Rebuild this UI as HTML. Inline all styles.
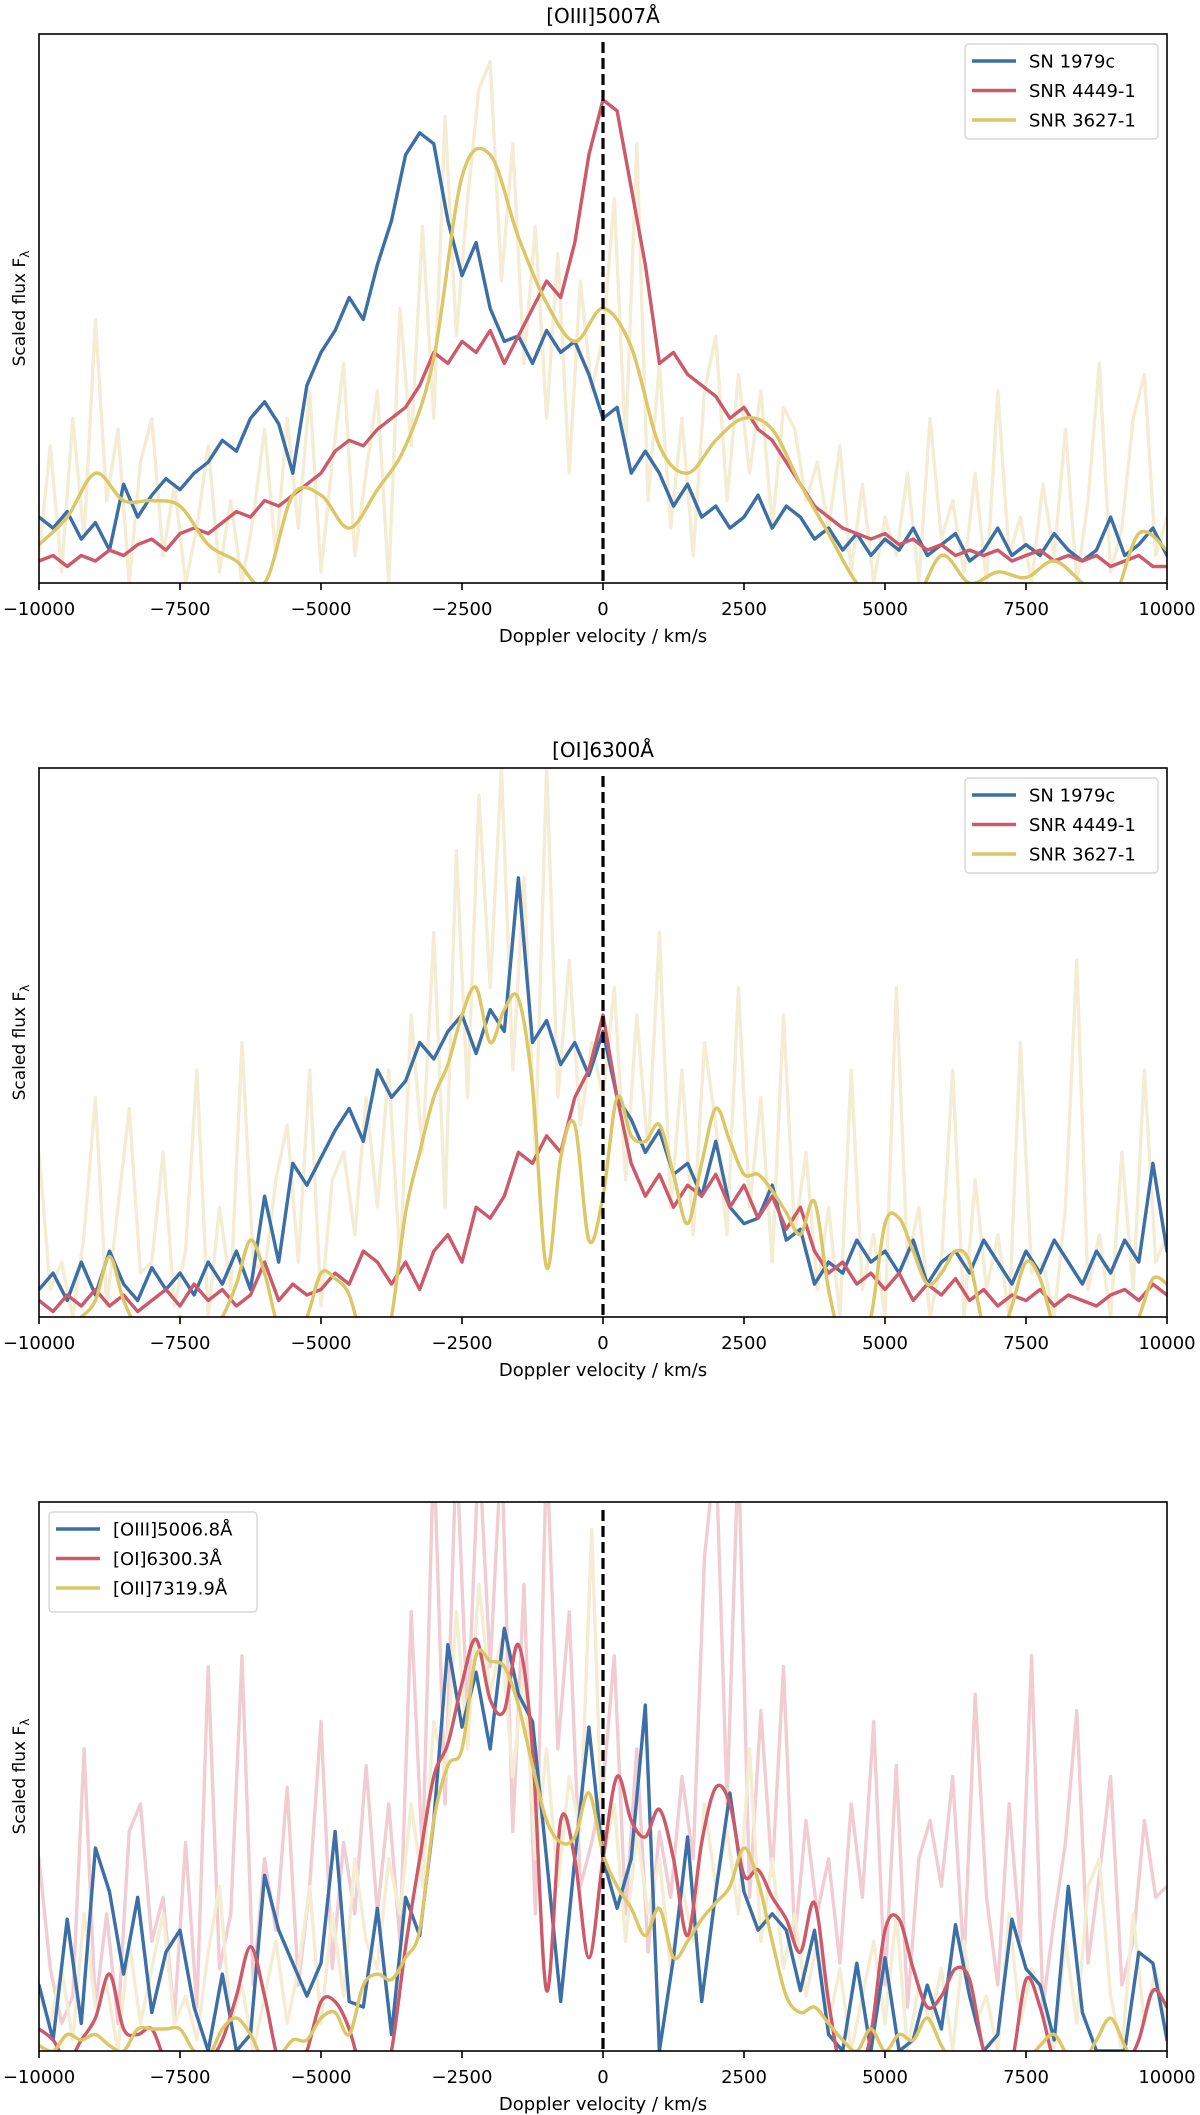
<!DOCTYPE html>
<html><head><meta charset="utf-8"><title>Doppler velocity profiles</title>
<style>
html,body{margin:0;padding:0;background:#fff;}
svg{display:block;font-family:"DejaVu Sans","Liberation Sans",sans-serif;}
</style></head>
<body>
<svg id="fig" width="1200" height="2115" viewBox="0 0 1200 2115" xmlns="http://www.w3.org/2000/svg"></svg>
<script>
// ---------- data (fractions of axis height, 0 = bottom, 1 = top) ----------
const velTicks = [-10000, -7500, -5000, -2500, 0, 2500, 5000, 7500, 10000];
const velTickLabels = ["\u221210000", "\u22127500", "\u22125000", "\u22122500", "0", "2500", "5000", "7500", "10000"];
const vStart = -10000;

// Panel 1: [OIII]5007
const p1Blue = [.12,.10,.13,.08,.11,.06,.18,.12,.16,.19, .17,.20,.22,.26,.24,.30,.33,.29,.20,.36, .42,.46,.52,.48,.58,.66,.78,.82,.80,.66, .56,.62,.50,.44,.45,.40,.46,.42,.44,.38, .30,.32,.20,.24,.20,.14,.18,.12,.14,.10, .12,.16,.10,.14,.12,.08,.10,.06,.09,.05, .08,.06,.10,.05,.07,.09,.04,.06,.10,.05, .07,.05,.09,.06,.04,.06,.12,.05,.07,.10, .05];
const p1Red = [.04,.05,.03,.05,.04,.06,.05,.07,.08,.06, .09,.10,.09,.11,.13,.12,.15,.14,.16,.18, .20,.24,.26,.25,.28,.30,.32,.36,.42,.40, .44,.42,.46,.40,.45,.50,.55,.52,.62,.78, .88,.86,.72,.58,.40,.42,.38,.36,.34,.30, .32,.28,.26,.22,.18,.14,.12,.10,.09,.08, .09,.07,.08,.06,.07,.05,.06,.05,.06,.04, .05,.06,.04,.05,.04,.05,.03,.04,.05,.03, .03];
const p1Yellow = [.07,.12,.20,.15,.15,.14,.07,.04,.00,.16, .16,.10,.17,.25,.41,.74,.78,.63,.51,.44, .50,.43,.25,.20,.26,.30,.28,.18,.09,.00, -.04,-.04,.05,.00,.02,.01,.04,.00,-.04,.09, .06];
const p1Noise = [.05,.25,.02,.30,.08,.48,.15,.28,.00,.22, .30,.05,.18,.00,.10,.25,.02,.15,.00,.12, .28,.05,.30,.10,.35,.02,.22,.40,.05,.20, .35,.00,.50,.25,.65,.30,.85,.45,.70,.90, .95,.55,.80,.40,.65,.30,.60,.20,.55,.35, .45,.70,.25,.80,.15,.40,.10,.30,.05,.35, .45,.15,.38,.20,.35,.10,.32,.28,.15,.22, .10,.25,.02,.18,.00,.12,.05,.20,.00,.30, .08,.15,.02,.20,.00,.35,.05,.12,.00,.18, .05,.28,.00,.15,.40,.02,.10,.30,.38,.05, .12];

// Panel 2: [OI]6300
const p2Blue = [.05,.08,.03,.10,.04,.12,.06,.03,.09,.05, .08,.04,.10,.06,.12,.05,.22,.10,.28,.24, .29,.34,.38,.32,.45,.40,.43,.50,.47,.52, .55,.48,.56,.52,.80,.50,.54,.46,.50,.44, .52,.40,.36,.30,.34,.26,.28,.22,.32,.20, .17,.18,.24,.14,.16,.06,.10,.08,.14,.10, .12,.08,.14,.06,.10,.12,.08,.14,.10,.06, .12,.08,.14,.10,.06,.12,.08,.14,.10,.28, .12];
const p2Red = [.03,.01,.04,.02,.05,.02,.04,.01,.03,.05, .02,.06,.03,.05,.02,.04,.10,.03,.06,.04, .05,.08,.06,.12,.10,.06,.10,.05,.12,.15, .10,.20,.18,.22,.30,.28,.33,.30,.40,.45, .55,.40,.28,.22,.26,.20,.24,.22,.26,.20, .24,.18,.22,.16,.20,.12,.08,.10,.06,.08, .05,.08,.03,.06,.04,.07,.03,.05,.02,.04, .03,.05,.02,.04,.03,.02,.04,.05,.03,.06, .04];
const p2Yellow = [-.02,-.03,-.02,.00,.03,.11,.03,-.02,-.04,-.02, .00,-.02,-.03,.00,.06,.14,.08,-.02,-.03,.00, .08,.07,.04,-.05,-.10,.00,.19,.30,.40,.46, .55,.60,.50,.56,.58,.42,.09,.29,.35,.14, .22,.40,.33,.32,.35,.26,.17,.28,.38,.32, .26,.26,.23,.19,.15,.21,.05,-.05,-.05,.00, .17,.18,.12,.06,.08,.12,.10,-.02,-.05,.02, .10,.07,-.02,-.06,-.06,-.05,-.06,-.04,.00,.07, .06];
const p2Noise = [.30,.05,.10,.00,.15,.40,.02,.20,.38,.08, .10,.30,.02,.12,.45,.00,.20,.05,.50,.10, .08,.25,.35,.10,.45,.02,.25,.30,.15,.40, .20,.45,.10,.55,.30,.70,.20,.85,.40,.95, .60,1.0,.45,.80,.30,1.0,.40,.65,.35,.50, .40,.60,.25,.55,.30,.70,.20,.45,.15,.50, .35,.15,.60,.20,.40,.10,.55,.15,.30,.05, .20,.00,.45,.05,.15,.00,.60,.10,.20,.00, .10,.45,.00,.25,.05,.15,.00,.50,.08,.10, .00,.20,.65,.05,.15,.00,.30,.05,.45,.10, .15];

// Panel 3: line comparison
const p3Blue = [.12,.02,.24,.05,.37,.29,.14,.28,.07,.18, .22,.08,.00,.14,.00,.03,.32,.22,.16,.10, .16,.40,.09,.08,.26,.03,.28,.21,.42,.74, .59,.69,.55,.77,.65,.60,.35,.09,.35,.59, .35,.26,.35,.63,.00,.17,.39,.09,.29,.47, .29,.22,.25,.22,.11,.22,.03,.00,.16,.00, .17,.00,.02,.12,.04,.23,.10,.00,.03,.24, .15,.12,.02,.30,.07,.00,.00,.00,.18,.16, .02];
const p3Red = [.04,.02,-.02,.02,.06,.14,.04,.03,.04,-.02, -.04,-.03,-.02,.02,.10,.19,.10,-.02,-.05,.00, .09,.09,.04,-.05,-.10,.00,.19,.35,.50,.56, .67,.75,.64,.62,.74,.55,.11,.42,.35,.17, .35,.50,.42,.39,.44,.35,.21,.38,.48,.45, .32,.33,.28,.24,.18,.27,.09,-.05,-.05,.03, .22,.24,.15,.08,.10,.15,.13,.00,-.05,-.02, .13,.08,-.02,-.06,-.06,-.05,-.06,-.03,.02,.11, .08];
const p3Yellow = [.01,.00,.03,.02,.03,.01,.00,.04,.04,.04, .04,.00,-.01,.04,.06,.03,-.02,-.01,.02,.02, .06,.07,.03,.12,.14,.13,.17,.22,.42,.52, .55,.72,.71,.70,.63,.52,.42,.38,.39,.47, .36,.30,.26,.21,.26,.17,.20,.24,.27,.30, .37,.31,.20,.10,.07,.08,.05,.02,.00,.04, .00,.03,.02,.06,.01,-.03,-.04,-.02,-.02,-.03, -.02,.01,.03,-.01,-.02,.02,.06,.01,-.04,-.02, -.03];
const p3PinkNoise = [.35,.15,.05,.10,.55,.08,.25,.05,.40,.45, .20,.28,.06,.38,.08,.70,.15,.25,.72,.12, .35,.22,.48,.12,.30,.60,.15,.38,.25,.52, .25,.45,.20,.80,.35,1.1,.45,1.1,.60,1.1, .70,1.1,.40,.85,.25,1.1,.55,.80,.30,.38, .48,.72,.25,.55,.18,.40,.28,.50,.35,.90, 1.1,.45,1.1,.28,.62,.32,.70,.20,.42,.25, .35,.16,.45,.28,.60,.12,.52,.08,.35,.42, .30,.50,.16,.65,.28,.12,.45,.20,.72,.08, .24,.38,.62,.16,.32,.50,.12,.20,.42,.28, .30];
const p3YellowNoise = [.10,.05,.15,.02,.25,.08,.12,.00,.20,.05, .15,.25,.05,.10,.02,.18,.30,.05,.12,.00, .10,.20,.05,.15,.30,.05,.25,.10,.35,.20, .15,.35,.25,.45,.30,.60,.50,.80,.55,.85, .65,.75,.50,.70,.35,.55,.30,.50,.40,.95, .35,.45,.20,.40,.25,.35,.15,.30,.20,.45, .30,.40,.25,.55,.20,.35,.15,.25,.10,.20, .05,.15,.00,.10,.20,.05,.25,.00,.12,.05, .15,.00,.20,.05,.10,.00,.25,.05,.15,.10, .00,.20,.05,.30,.35,.10,.00,.25,.05,.15, .05];

// ---------- layout ----------
const NS = "http://www.w3.org/2000/svg";
const svg = document.getElementById("fig");
const L = 39, R = 1167, H = 549;
const C_BLUE = "#3b6fa6", C_RED = "#cc5a6b", C_YEL = "#dcc665", C_LYEL = "#f4edd4", C_PINK = "#f1cdd3";

function mk(tag, attrs, parent) {
  const e = document.createElementNS(NS, tag);
  for (const k in attrs) e.setAttribute(k, attrs[k]);
  (parent || svg).appendChild(e);
  return e;
}
function xScale(v) { return L + (v - (-10000)) / 20000 * (R - L); }
function yScale(top, f) { return top + H - f * H; }

function linePath(top, vals, step) {
  let d = "";
  vals.forEach((f, i) => { const x = xScale(vStart + i * step), y = yScale(top, f); d += (i ? "L" : "M") + x.toFixed(1) + "," + y.toFixed(1); });
  return d;
}
function smoothPath(top, vals, step) {
  const pts = vals.map((f, i) => [xScale(vStart + i * step), yScale(top, f)]);
  let d = "M" + pts[0][0].toFixed(1) + "," + pts[0][1].toFixed(1);
  for (let i = 0; i < pts.length - 1; i++) {
    const p0 = pts[Math.max(0, i - 1)], p1 = pts[i], p2 = pts[i + 1], p3 = pts[Math.min(pts.length - 1, i + 2)];
    const c1 = [p1[0] + (p2[0] - p0[0]) / 6, p1[1] + (p2[1] - p0[1]) / 6];
    const c2 = [p2[0] - (p3[0] - p1[0]) / 6, p2[1] - (p3[1] - p1[1]) / 6];
    d += "C" + c1[0].toFixed(1) + "," + c1[1].toFixed(1) + " " + c2[0].toFixed(1) + "," + c2[1].toFixed(1) + " " + p2[0].toFixed(1) + "," + p2[1].toFixed(1);
  }
  return d;
}

function panel(idx, top, title, series, legendItems, legendPos) {
  const g = mk("g", {});
  
  
  const cid = "clip" + idx;
  const cp = mk("clipPath", { id: cid }, g);
  mk("rect", { x: L, y: top, width: R - L, height: H }, cp);
  const dg = mk("g", { "clip-path": "url(#" + cid + ")" }, g);
  
  
  series.forEach(s => {
    const p = mk("path", { d: s.smooth ? smoothPath(top, s.vals, s.step) : linePath(top, s.vals, s.step), fill: "none", stroke: s.color, "stroke-width": s.w || 3.4, "stroke-linejoin": "round", "stroke-linecap": "round" }, dg);
    
    
  });
  const z = mk("line", { x1: xScale(0), x2: xScale(0), y1: top + 8, y2: top + H, stroke: "#000", "stroke-width": 3.2, "stroke-dasharray": "11,5" }, g);
  
  
  const fr = mk("rect", { x: L, y: top, width: R - L, height: H, fill: "none", stroke: "#000", "stroke-width": 1.6 }, g);
  
  
  velTicks.forEach((v, i) => {
    const x = xScale(v);
    const t = mk("line", { x1: x, x2: x, y1: top + H, y2: top + H + 7, stroke: "#000", "stroke-width": 1.6 }, g);
    
    
    const lb = mk("text", { x: x, y: top + H + 32, "text-anchor": "middle", "font-size": 18, fill: "#000" }, g);
    lb.textContent = velTickLabels[i];
    
    
  });
  const xl = mk("text", { x: (L + R) / 2, y: top + H + 59, "text-anchor": "middle", "font-size": 18, fill: "#000" }, g);
  xl.textContent = "Doppler velocity / km/s";
  
  
  const yl = mk("text", { transform: "translate(25," + (top + H / 2) + ") rotate(-90)", "text-anchor": "middle", "font-size": 17, fill: "#000" }, g);
  yl.innerHTML = 'Scaled flux F<tspan font-size="12" dy="4">\u03bb</tspan>';
  
  
  if (title) {
    const tt = mk("text", { x: (L + R) / 2, y: top - 11, "text-anchor": "middle", "font-size": 20, fill: "#000" }, g);
    tt.textContent = title;
    
    
  }
  const lg = mk("g", {}, g);
  
  
  mk("rect", { x: legendPos.x, y: legendPos.y, width: legendPos.w, height: legendPos.h, rx: 4, fill: "#fff", "fill-opacity": 0.85, stroke: "#d6d6d6", "stroke-width": 1.4 }, lg);
  legendItems.forEach((it, i) => {
    const yy = legendPos.y + 17 + i * 29.5;
    const e = mk("g", {}, lg);
    
    
    mk("line", { x1: legendPos.x + 7, x2: legendPos.x + 51, y1: yy, y2: yy, stroke: it.color, "stroke-width": 3.6 }, e);
    const t = mk("text", { x: legendPos.x + 64, y: yy + 6.5, "font-size": 18, fill: "#000" }, e);
    t.textContent = it.label;
  });
}

panel(1, 34, "[OIII]5007\u00c5", [
  { name: "snr3627-raw-line", vals: p1Noise, step: 200, color: C_LYEL },
  { name: "sn1979c-line", vals: p1Blue, step: 250, color: C_BLUE },
  { name: "snr4449-line", vals: p1Red, step: 250, color: C_RED },
  { name: "snr3627-smoothed-line", vals: p1Yellow, step: 500, color: C_YEL, smooth: true }
], [{ label: "SN 1979c", color: C_BLUE }, { label: "SNR 4449-1", color: C_RED }, { label: "SNR 3627-1", color: C_YEL }],
{ x: 965, y: 44, w: 193, h: 95 });

panel(2, 768, "[OI]6300\u00c5", [
  { name: "snr3627-raw-line", vals: p2Noise, step: 200, color: C_LYEL },
  { name: "sn1979c-line", vals: p2Blue, step: 250, color: C_BLUE },
  { name: "snr4449-line", vals: p2Red, step: 250, color: C_RED },
  { name: "snr3627-smoothed-line", vals: p2Yellow, step: 250, color: C_YEL, smooth: true }
], [{ label: "SN 1979c", color: C_BLUE }, { label: "SNR 4449-1", color: C_RED }, { label: "SNR 3627-1", color: C_YEL }],
{ x: 965, y: 778, w: 193, h: 95 });

panel(3, 1502, null, [
  { name: "oi-raw-line", vals: p3PinkNoise, step: 200, color: C_PINK },
  { name: "oii-raw-line", vals: p3YellowNoise, step: 200, color: C_LYEL },
  { name: "oiii-line", vals: p3Blue, step: 250, color: C_BLUE },
  { name: "oi-smoothed-line", vals: p3Red, step: 250, color: C_RED, smooth: true },
  { name: "oii-smoothed-line", vals: p3Yellow, step: 250, color: C_YEL, smooth: true }
], [{ label: "[OIII]5006.8\u00c5", color: C_BLUE }, { label: "[OI]6300.3\u00c5", color: C_RED }, { label: "[OII]7319.9\u00c5", color: C_YEL }],
{ x: 49, y: 1512, w: 208, h: 100 });
</script>
</body></html>
